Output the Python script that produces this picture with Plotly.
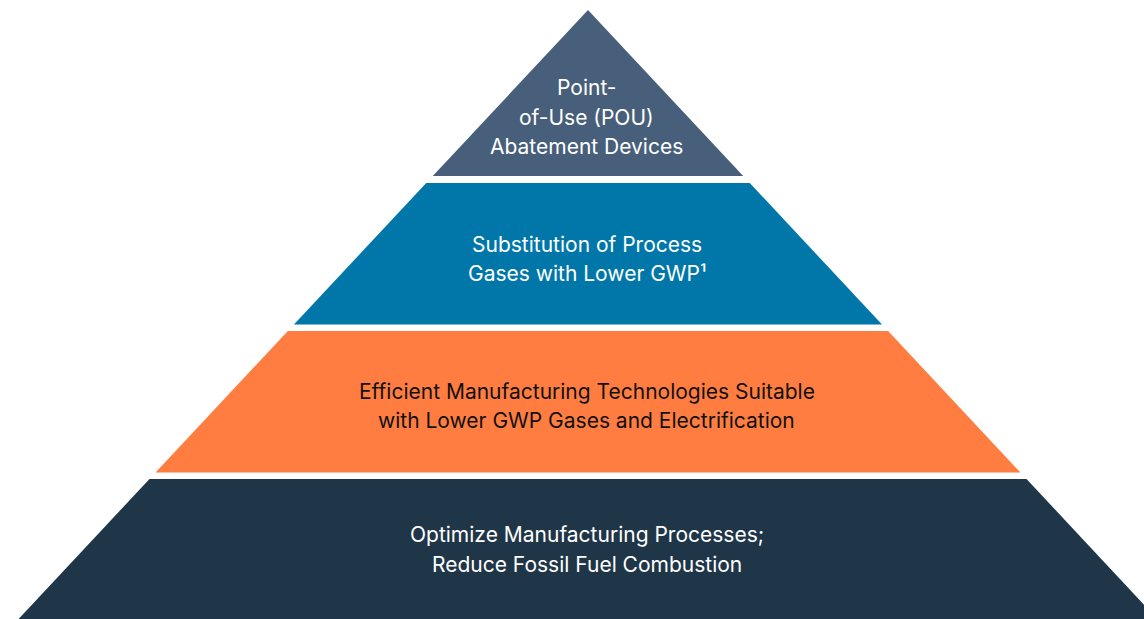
import plotly.graph_objects as go

# ---- data ----
tiers = ["Point-of-Use (POU) Abatement Devices",
         "Substitution of Process Gases with Lower GWP",
         "Efficient Manufacturing Technologies",
         "Optimize Manufacturing Processes"]
tier_lines = [
    ["Point-", "of-Use (POU)", "Abatement Devices"],
    ["Substitution of Process", "Gases with Lower GWP¹"],
    ["Efficient Manufacturing Technologies Suitable",
     "with Lower GWP Gases and Electrification"],
    ["Optimize Manufacturing Processes;", "Reduce Fossil Fuel Combustion"],
]
tier_colors = ["#475f7a", "#0177a9", "#ff7d40", "#1f3548"]
tier_text_colors = ["#ffffff", "#ffffff", "#111111", "#ffffff"]

# ---- layout geometry (canvas units) ----
W, H = 1144, 619
apex_x, apex_y = 588, 10
text_x = 586.5
slope = 0.935          # horizontal run per unit of height
bands = [(10, 176), (183, 324.5), (331, 472.5), (479, 625)]
text_rows = [[87, 117, 146], [244, 273], [391, 420], [534, 564]]


def half_width(y):
    return slope * (y - apex_y)


fig = go.Figure()
for name, (y0, y1), col in zip(tiers, bands, tier_colors):
    xs = [apex_x - half_width(y0), apex_x + half_width(y0),
          apex_x + half_width(y1), apex_x - half_width(y1)]
    ys = [y0, y0, y1, y1]
    fig.add_trace(go.Scatter(x=xs, y=ys, fill="toself", fillcolor=col,
                             mode="lines", line=dict(width=0, color=col),
                             name=name, hoverinfo="name", showlegend=False))

for lines, rows, tc in zip(tier_lines, text_rows, tier_text_colors):
    for txt, yy in zip(lines, rows):
        fig.add_annotation(x=text_x, y=yy, xref="x", yref="y", text=txt,
                           showarrow=False, xanchor="center", yanchor="middle",
                           font=dict(family="Inter", size=21, color=tc,
                                     weight=400))

fig.update_layout(
    width=W, height=H,
    margin=dict(l=0, r=0, t=0, b=0),
    paper_bgcolor="white", plot_bgcolor="white",
    xaxis=dict(range=[0, W], visible=False, fixedrange=True),
    yaxis=dict(range=[H, 0], visible=False, fixedrange=True),
)
fig.write_html(
    "out.html",
    config={"displayModeBar": False},
    post_script="document.body.style.margin='0';"
                "document.body.style.overflow='hidden';",
)
